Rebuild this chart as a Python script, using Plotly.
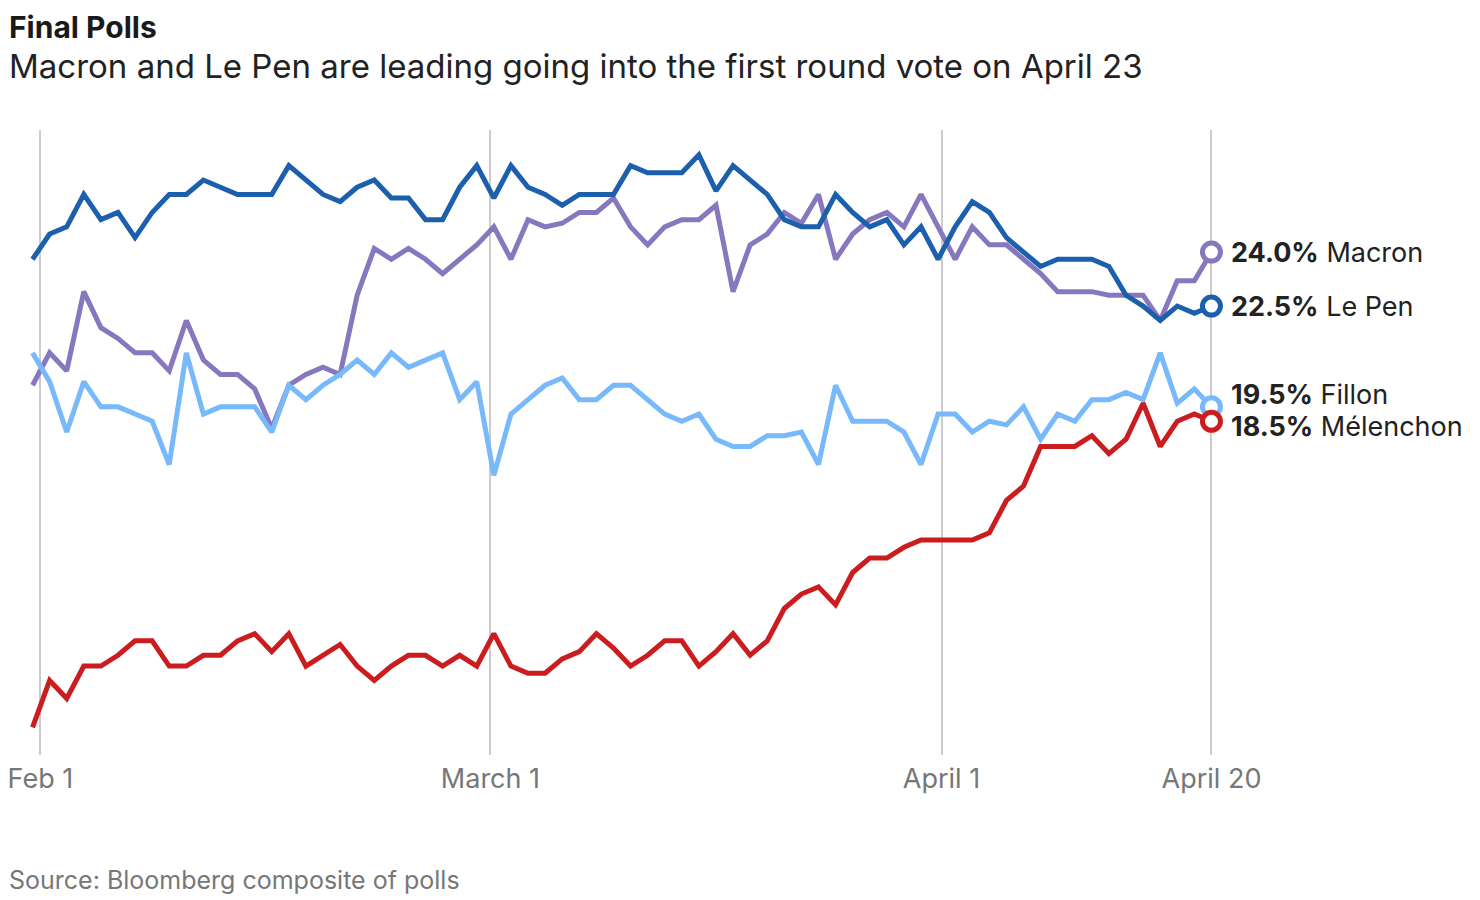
"""French election final polls chart."""

import plotly.graph_objects as go

# poll composite values (%), one value per poll release, evenly spaced
MACRON = [
    20.3, 21.2, 20.7, 22.9, 21.9, 21.6, 21.2, 21.2, 20.7, 22.1,
    21.0, 20.6, 20.6, 20.2, 19.1, 20.3, 20.6, 20.8, 20.6, 22.8,
    24.1, 23.8, 24.1, 23.8, 23.4, 23.8, 24.2, 24.7, 23.8, 24.9,
    24.7, 24.8, 25.1, 25.1, 25.5, 24.7, 24.2, 24.7, 24.9, 24.9,
    25.3, 22.9, 24.2, 24.5, 25.1, 24.8, 25.6, 23.8, 24.5, 24.9,
    25.1, 24.7, 25.6, 24.7, 23.8, 24.7, 24.2, 24.2, 23.8, 23.4,
    22.9, 22.9, 22.9, 22.8, 22.8, 22.8, 22.1, 23.2, 23.2, 24.0,
]
LE_PEN = [
    23.8, 24.5, 24.7, 25.6, 24.9, 25.1, 24.4, 25.1, 25.6, 25.6,
    26.0, 25.8, 25.6, 25.6, 25.6, 26.4, 26.0, 25.6, 25.4, 25.8,
    26.0, 25.5, 25.5, 24.9, 24.9, 25.8, 26.4, 25.5, 26.4, 25.8,
    25.6, 25.3, 25.6, 25.6, 25.6, 26.4, 26.2, 26.2, 26.2, 26.7,
    25.7, 26.4, 26.0, 25.6, 24.9, 24.7, 24.7, 25.6, 25.1, 24.7,
    24.9, 24.2, 24.7, 23.8, 24.7, 25.4, 25.1, 24.4, 24.0, 23.6,
    23.8, 23.8, 23.8, 23.6, 22.8, 22.5, 22.1, 22.5, 22.3, 22.5,
]
FILLON = [
    21.2, 20.4, 19.0, 20.4, 19.7, 19.7, 19.5, 19.3, 18.1, 21.2,
    19.5, 19.7, 19.7, 19.7, 19.0, 20.3, 19.9, 20.3, 20.6, 21.0,
    20.6, 21.2, 20.8, 21.0, 21.2, 19.9, 20.4, 17.8, 19.5, 19.9,
    20.3, 20.5, 19.9, 19.9, 20.3, 20.3, 19.9, 19.5, 19.3, 19.5,
    18.8, 18.6, 18.6, 18.9, 18.9, 19.0, 18.1, 20.3, 19.3, 19.3,
    19.3, 19.0, 18.1, 19.5, 19.5, 19.0, 19.3, 19.2, 19.7, 18.8,
    19.5, 19.3, 19.9, 19.9, 20.1, 19.9, 21.2, 19.8, 20.2, 19.7,
]
MELENCHON = [
    10.8, 12.1, 11.6, 12.5, 12.5, 12.8, 13.2, 13.2, 12.5, 12.5,
    12.8, 12.8, 13.2, 13.4, 12.9, 13.4, 12.5, 12.8, 13.1, 12.5,
    12.1, 12.5, 12.8, 12.8, 12.5, 12.8, 12.5, 13.4, 12.5, 12.3,
    12.3, 12.7, 12.9, 13.4, 13.0, 12.5, 12.8, 13.2, 13.2, 12.5,
    12.9, 13.4, 12.8, 13.2, 14.1, 14.5, 14.7, 14.2, 15.1, 15.5,
    15.5, 15.8, 16.0, 16.0, 16.0, 16.0, 16.2, 17.1, 17.5, 18.6,
    18.6, 18.6, 18.9, 18.4, 18.8, 19.8, 18.6, 19.3, 19.5, 19.3,
]
POLL_INDEX = list(range(len(LE_PEN)))

# where the date labels fall along the poll sequence
TICK_POSITIONS = [0.46, 26.8, 53.2, 69]
TICK_LABELS = ["Feb 1", "March 1", "April 1", "April 20"]

# latest figure shown beside each line
END_LABELS = {
    "Macron": "24.0%",
    "Le Pen": "22.5%",
    "Fillon": "19.5%",
    "Mélenchon": "18.5%",
}

COLORS = {
    "Macron": "#8677be",
    "Le Pen": "#1b5fad",
    "Fillon": "#77b9fb",
    "Mélenchon": "#cb1d1f",
}

# drawing order (later traces on top) and label nudge in px
SERIES = [
    ("Macron", MACRON, 0),
    ("Fillon", FILLON, 12),
    ("Mélenchon", MELENCHON, -5),
    ("Le Pen", LE_PEN, 0),
]

FONT = "Inter, Liberation Sans, Arial, sans-serif"

fig = go.Figure()

for name, values, _ in SERIES:
    fig.add_trace(
        go.Scatter(
            x=POLL_INDEX,
            y=values,
            mode="lines",
            name=name,
            line=dict(color=COLORS[name], width=5),
            showlegend=False,
            hoverinfo="skip",
        )
    )

for name, values, shift in SERIES:
    fig.add_trace(
        go.Scatter(
            x=[POLL_INDEX[-1]],
            y=[values[-1]],
            mode="markers",
            marker=dict(
                size=18,
                color="white",
                line=dict(color=COLORS[name], width=5),
            ),
            showlegend=False,
            hoverinfo="skip",
            cliponaxis=False,
        )
    )
    fig.add_annotation(
        x=POLL_INDEX[-1],
        y=values[-1],
        xref="x",
        yref="y",
        text=f"<b>{END_LABELS[name]}</b> {name}",
        showarrow=False,
        xanchor="left",
        yanchor="middle",
        xshift=18,
        yshift=shift,
        font=dict(family=FONT, size=27, color="#222222"),
    )

# plot area in layout pixels: left 16, width 1196, top 122, height 625
fig.add_annotation(
    x=-0.0134, y=1.1952, xref="paper", yref="paper",
    text="<b>Final Polls</b>", showarrow=False,
    xanchor="left", yanchor="top", borderpad=0,
    font=dict(family=FONT, size=30, color="#1a1a1a"),
)
fig.add_annotation(
    x=-0.0134, y=1.1024, xref="paper", yref="paper",
    text="Macron and Le Pen are leading going into the first round vote on April 23",
    showarrow=False, xanchor="left", yanchor="middle", borderpad=0,
    font=dict(family=FONT, size=33, color="#222222"),
)
fig.add_annotation(
    x=-0.0134, y=-0.2, xref="paper", yref="paper",
    text="Source: Bloomberg composite of polls",
    showarrow=False, xanchor="left", yanchor="middle", borderpad=0,
    font=dict(family=FONT, size=25, color="#777777"),
)

fig.update_xaxes(
    range=[-0.5, 69.5],
    tickmode="array",
    tickvals=TICK_POSITIONS,
    ticktext=TICK_LABELS,
    showgrid=True,
    gridcolor="#cccccc",
    gridwidth=1.5,
    zeroline=False,
    showline=False,
    ticks="",
    ticklabelstandoff=5,
    ticklabeloverflow="allow",
    automargin=False,
    tickfont=dict(family=FONT, size=27, color="#777777"),
)
fig.update_yaxes(
    range=[10.03, 27.39],
    visible=False,
    showgrid=False,
    zeroline=False,
)
fig.update_layout(
    width=1480,
    height=900,
    margin=dict(l=16, r=268, t=122, b=153),
    plot_bgcolor="white",
    paper_bgcolor="white",
    font=dict(family=FONT),
    hovermode=False,
)

fig.write_html("out.html")
